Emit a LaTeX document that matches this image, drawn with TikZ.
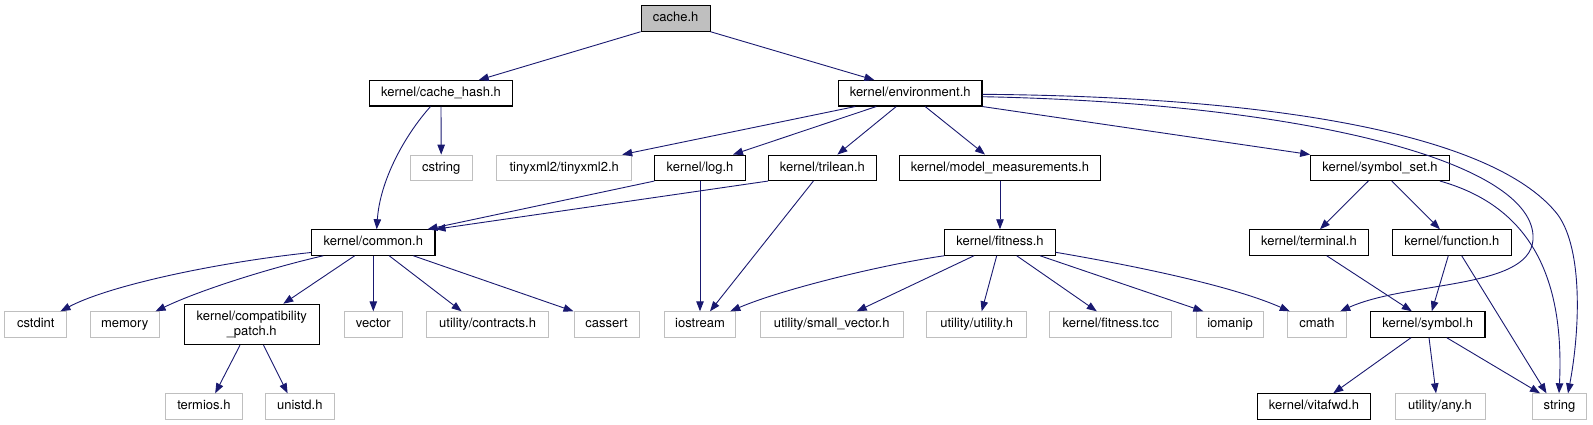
\documentclass[tikz,border=0pt]{standalone}
\usepackage{fontspec}
\setmainfont{TeX Gyre Heros}
\usetikzlibrary{arrows.meta}
\definecolor{edgec}{HTML}{191970}
\definecolor{grayb}{HTML}{BFBFBF}
\begin{document}
\begin{tikzpicture}[x=1pt,y=-1pt,
  base/.style={rectangle, inner sep=0pt, minimum height=25.4pt, font=\fontsize{13}{15}\selectfont, text height=9.6pt, text depth=2.8pt, anchor=center},
  doc/.style={base, draw=black, line width=1.1pt},
  ext/.style={base, draw=grayb, line width=1pt},
  root/.style={doc, fill=grayb},
  conn/.style={draw=edgec, line width=0.9pt, -{Triangle[length=10pt,width=7.5pt]}},
]
\useasboundingbox (0,0) rectangle (1593,425);
% row 0
\node[root, minimum width=68.9pt] (cache) at (675.6,18.5) {cache.h};
% row 1
\node[doc, minimum width=143.6pt] (cachehash) at (441,93.3) {kernel/cache\_hash.h};
\node[doc, minimum width=143.5pt] (env) at (910.2,93.3) {kernel/environment.h};
% row 2
\node[ext, minimum width=62.3pt] (cstring) at (441.2,167.8) {cstring};
\node[ext, minimum width=135pt] (tinyxml) at (564.2,167.8) {tinyxml2/tinyxml2.h};
\node[doc, minimum width=90.2pt] (log) at (700,167.8) {kernel/log.h};
\node[doc, minimum width=107.5pt] (trilean) at (822.4,167.8) {kernel/trilean.h};
\node[doc, minimum width=201pt] (model) at (1000,167.8) {kernel/model\_measurements.h};
\node[doc, minimum width=138.6pt] (symset) at (1380,167.8) {kernel/symbol\_set.h};
% row 3
\node[doc, minimum width=123.3pt] (common) at (373.3,242.5) {kernel/common.h};
\node[doc, minimum width=110.4pt] (fitness) at (1000,242.5) {kernel/fitness.h};
\node[doc, minimum width=118.5pt] (terminal) at (1309,242.5) {kernel/terminal.h};
\node[doc, minimum width=118.3pt] (function) at (1451.9,242.5) {kernel/function.h};
% row 4
\node[ext, minimum width=61.7pt] (cstdint) at (35.8,324.5) {cstdint};
\node[ext, minimum width=69.3pt] (memory) at (124.7,324.5) {memory};
\node[draw=black, line width=1.1pt, rectangle, inner sep=0pt, minimum height=40.4pt, minimum width=135pt, align=center, font=\fontsize{13}{15}\selectfont] (compat) at (251.7,324.5) {kernel/compatibility\\\_patch.h};
\node[ext, minimum width=58.4pt] (vector) at (373.3,324.5) {vector};
\node[ext, minimum width=122.5pt] (contracts) at (487.6,324.5) {utility/contracts.h};
\node[ext, minimum width=65pt] (cassert) at (606.5,324.5) {cassert};
\node[ext, minimum width=71.7pt] (iostream) at (700,324.5) {iostream};
\node[ext, minimum width=143.3pt] (smallvec) at (831.7,324.5) {utility/small\_vector.h};
\node[ext, minimum width=100pt] (utility) at (976.7,324.5) {utility/utility.h};
\node[ext, minimum width=121.7pt] (fittcc) at (1110.8,324.5) {kernel/fitness.tcc};
\node[ext, minimum width=66.6pt] (iomanip) at (1230,324.5) {iomanip};
\node[ext, minimum width=59.4pt] (cmath) at (1317,324.5) {cmath};
\node[doc, minimum width=114.3pt] (symbol) at (1427.8,324.5) {kernel/symbol.h};
% row 5
\node[ext, minimum width=76.4pt] (termios) at (203.9,406.5) {termios.h};
\node[ext, minimum width=68.5pt] (unistd) at (299.8,406.5) {unistd.h};
\node[doc, minimum width=113.3pt] (vitafwd) at (1314,406.5) {kernel/vitafwd.h};
\node[ext, minimum width=90pt] (any) at (1440,406.5) {utility/any.h};
\node[ext, minimum width=54.4pt] (string) at (1559.5,406.5) {string};
% edges
\draw[conn] (cache.south west) -- ([xshift=37.7pt]cachehash.north);
\draw[conn] (cache.south east) -- ([xshift=-35.8pt]env.north);
\draw[conn] (cachehash.south) -- (cstring.north);
\draw[conn] ([xshift=-10.5pt]cachehash.south) .. controls (405,135) and (380,180) .. ([xshift=3.4pt]common.north);
\draw[conn] ([xshift=-55pt]env.south) -- ([xshift=58pt]tinyxml.north);
\draw[conn] ([xshift=-34pt]env.south) -- ([xshift=33pt]log.north);
\draw[conn] ([xshift=-14pt]env.south) -- ([xshift=15pt]trilean.north);
\draw[conn] ([xshift=15pt]env.south) -- ([xshift=-15pt]model.north);
\draw[conn] (env.south east) -- (symset.north west);
\draw[conn] ([yshift=-3.4pt]env.east) .. controls (1300,103) and (1528,160) .. (1533,235) .. controls (1537,290) and (1410,280) .. ([xshift=-7pt]cmath.north east);
\draw[conn] ([yshift=-1pt]env.east) .. controls (1300,97) and (1500,140) .. (1558,215) .. controls (1583,250) and (1580,330) .. ([xshift=8.5pt]string.north);
\draw[conn] (log.south west) -- ([xshift=-8pt]common.north east);
\draw[conn] (log.south) -- (iostream.north);
\draw[conn] ([xshift=-9pt]trilean.south) -- ([xshift=10pt]iostream.north);
\draw[conn] (trilean.south west) -- (common.north east);
\draw[conn] (model.south) -- (fitness.north);
\draw[conn] (fitness.south west) .. controls (880,265) and (780,290) .. ([xshift=-6pt]iostream.north east);
\draw[conn] ([xshift=-26pt]fitness.south) -- ([xshift=25pt]smallvec.north);
\draw[conn] ([xshift=-3.3pt]fitness.south) -- ([xshift=5pt]utility.north);
\draw[conn] ([xshift=16.7pt]fitness.south) -- ([xshift=-14pt]fittcc.north);
\draw[conn] ([xshift=40pt]fitness.south) -- ([xshift=-26.7pt]iomanip.north);
\draw[conn] ([yshift=-9.8pt]fitness.east) .. controls (1130,265) and (1230,285) .. ([xshift=3pt]cmath.north west);
\draw[conn] ([xshift=-11.7pt]symset.south) -- ([xshift=11pt]terminal.north);
\draw[conn] ([xshift=11.7pt]symset.south) -- ([xshift=-12pt]function.north);
\draw[conn] ([xshift=60pt]symset.south) .. controls (1525,205) and (1565,270) .. ([xshift=-0.5pt]string.north);
\draw[conn] ([xshift=17.7pt]terminal.south) -- ([xshift=-16pt]symbol.north);
\draw[conn] ([xshift=-3.6pt]function.south) -- ([xshift=4pt]symbol.north);
\draw[conn] ([xshift=9.8pt]function.south) -- ([xshift=-13pt]string.north);
\draw[conn] ([xshift=-16.8pt]symbol.south) -- ([xshift=19.3pt]vitafwd.north);
\draw[conn] ([xshift=1.2pt]symbol.south) -- ([xshift=-4pt]any.north);
\draw[conn] ([xshift=19pt]symbol.south) -- ([xshift=-19.5pt]string.north);
\draw[conn] ([yshift=-10pt]common.west) .. controls (220,262) and (110,285) .. ([xshift=-6.7pt]cstdint.north east);
\draw[conn] ([xshift=-50pt]common.south) .. controls (270,268) and (200,290) .. ([xshift=-4.3pt]memory.north east);
\draw[conn] ([xshift=-18.6pt]common.south) -- ([xshift=31.6pt]compat.north);
\draw[conn] (common.south) -- (vector.north);
\draw[conn] ([xshift=15.9pt]common.south) -- ([xshift=-26pt]contracts.north);
\draw[conn] ([xshift=40pt]common.south) -- (cassert.north west);
\draw[conn] ([xshift=-11.7pt]compat.south) -- ([xshift=11.3pt]termios.north);
\draw[conn] ([xshift=11.8pt]compat.south) -- ([xshift=-12.2pt]unistd.north);
\end{tikzpicture}
\end{document}
